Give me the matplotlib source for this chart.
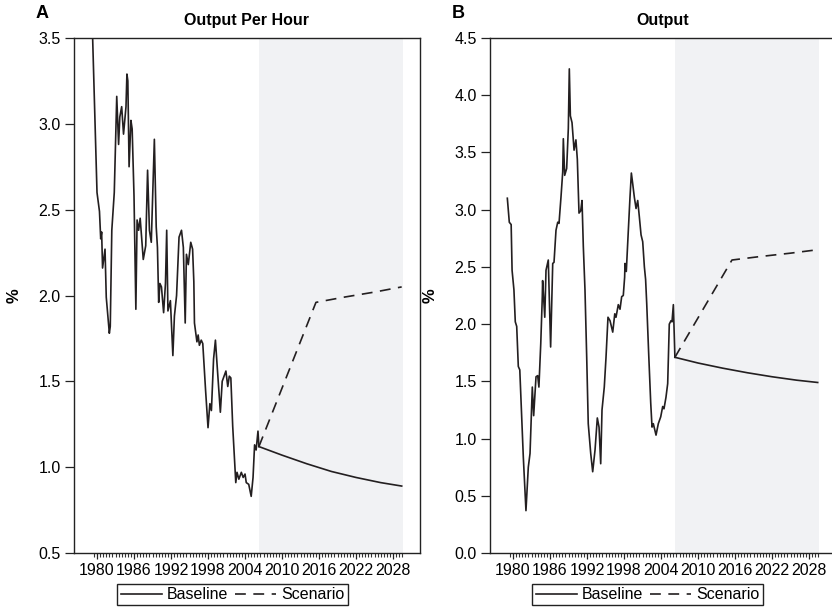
import matplotlib
matplotlib.use("Agg")
import matplotlib.pyplot as plt
from matplotlib.ticker import FixedLocator, MultipleLocator
import numpy as np

plt.rcParams['font.family'] = ['Liberation Sans', 'DejaVu Sans']

# ---------------- data ----------------
tick_years = [1980, 1986, 1992, 1998, 2004, 2010, 2016, 2022, 2028]
tick_labels = [str(y) for y in tick_years]

# Panel A: Output per hour, history
hist_years_A = [1979.3, 1980.0, 1980.4, 1980.6, 1980.75, 1980.9, 1981.3, 1981.5, 1982.0, 1982.15,
                1982.4, 1982.8, 1983.2, 1983.5, 1983.7, 1984.0, 1984.3, 1984.7, 1984.85, 1985.0,
                1985.2, 1985.5, 1985.7, 1986.0, 1986.3, 1986.5, 1986.75, 1987.0, 1987.5, 1987.9,
                1988.2, 1988.5, 1988.8, 1989.3, 1989.6, 1989.8, 1990.0, 1990.2, 1990.45, 1990.8,
                1991.1, 1991.3, 1991.5, 1991.9, 1992.3, 1992.55, 1992.9, 1993.3, 1993.7, 1994.0,
                1994.3, 1994.5, 1994.8, 1995.2, 1995.5, 1995.7, 1995.8, 1996.2, 1996.4, 1996.6,
                1996.9, 1997.15, 1997.6, 1998.0, 1998.3, 1998.55, 1998.9, 1999.2, 1999.5, 2000.0,
                2000.3, 2000.6, 2000.9, 2001.2, 2001.45, 2001.7, 2002.0, 2002.5, 2002.7, 2003.0,
                2003.4, 2003.7, 2004.0, 2004.2, 2004.6, 2005.0, 2005.3, 2005.55, 2005.8, 2006.1,
                2006.25]
hist_vals_A = [3.49, 2.60, 2.49, 2.33, 2.37, 2.16, 2.27, 1.99, 1.78, 1.82,
               2.38, 2.60, 3.16, 2.88, 3.04, 3.10, 2.94, 3.10, 3.29, 3.25,
               2.75, 3.02, 2.97, 2.58, 1.92, 2.44, 2.38, 2.45, 2.21, 2.29,
               2.73, 2.38, 2.31, 2.91, 2.40, 2.28, 1.96, 2.07, 2.05, 1.90,
               2.07, 2.38, 1.91, 1.97, 1.65, 1.88, 2.00, 2.34, 2.38, 2.28,
               1.84, 2.24, 2.18, 2.31, 2.27, 2.08, 1.84, 1.73, 1.77, 1.71,
               1.74, 1.72, 1.45, 1.23, 1.37, 1.33, 1.63, 1.74, 1.58, 1.32,
               1.50, 1.53, 1.56, 1.47, 1.53, 1.52, 1.24, 0.91, 0.97, 0.93,
               0.97, 0.94, 0.96, 0.91, 0.90, 0.83, 0.94, 1.13, 1.10, 1.21,
               1.12]

# Panel B: Output, history
hist_years_B = [1979.08, 1979.4, 1979.7, 1979.85, 1980.15, 1980.37, 1980.6, 1980.86, 1981.1, 1981.67,
                1982.1, 1982.48, 1982.76, 1983.13, 1983.35, 1983.73, 1984.0, 1984.2, 1984.5, 1984.75,
                1984.8, 1985.15, 1985.35, 1985.72, 1986.1, 1986.44, 1986.65, 1986.97, 1987.25, 1987.46,
                1987.78, 1988.06, 1988.16, 1988.38, 1988.7, 1988.97, 1989.13, 1989.3, 1989.57, 1989.9,
                1990.2, 1990.43, 1990.7, 1990.98, 1991.19, 1991.4, 1991.67, 1991.95, 1992.2, 1992.6,
                1992.92, 1993.3, 1993.67, 1993.95, 1994.22, 1994.43, 1994.8, 1995.08, 1995.4, 1995.73,
                1996.17, 1996.5, 1996.7, 1997.07, 1997.35, 1997.62, 1997.88, 1998.1, 1998.16, 1998.37,
                1998.7, 1998.97, 1999.19, 1999.4, 1999.67, 1999.95, 2000.22, 2000.48, 2000.76, 2001.03,
                2001.3, 2001.5, 2001.68, 2002.0, 2002.33, 2002.54, 2002.75, 2003.19, 2003.56, 2003.95,
                2004.27, 2004.48, 2004.8, 2005.08, 2005.34, 2005.62, 2005.78, 2006.0, 2006.25]
hist_vals_B = [3.10, 2.89, 2.87, 2.47, 2.30, 2.02, 1.98, 1.63, 1.60, 0.84,
               0.37, 0.75, 0.87, 1.45, 1.20, 1.54, 1.55, 1.45, 1.83, 2.24,
               2.38, 2.06, 2.47, 2.56, 1.80, 2.53, 2.54, 2.82, 2.89, 2.88,
               3.11, 3.33, 3.62, 3.30, 3.36, 3.71, 4.23, 3.82, 3.76, 3.52,
               3.61, 3.44, 2.97, 2.99, 3.08, 2.68, 2.30, 1.71, 1.13, 0.87,
               0.71, 0.90, 1.18, 1.10, 0.78, 1.25, 1.45, 1.71, 2.06, 2.03,
               1.93, 2.09, 2.06, 2.17, 2.13, 2.24, 2.25, 2.41, 2.53, 2.46,
               2.82, 3.11, 3.32, 3.23, 3.11, 3.01, 3.08, 2.94, 2.78, 2.72,
               2.50, 2.39, 2.18, 1.74, 1.31, 1.10, 1.13, 1.03, 1.13, 1.19,
               1.28, 1.26, 1.36, 1.48, 2.00, 2.03, 2.02, 2.17, 1.71]

# Projections
proj_years = [2006.25, 2010, 2014, 2018, 2022, 2026, 2029.4]
base_proj_A = [1.12, 1.07, 1.02, 0.975, 0.94, 0.91, 0.89]
base_proj_B = [1.71, 1.66, 1.615, 1.575, 1.54, 1.51, 1.49]

scen_years = [2006.25, 2015.5, 2020, 2025, 2029.4]
scen_A = [1.12, 1.96, 1.99, 2.02, 2.05]
scen_B = [1.71, 2.56, 2.59, 2.62, 2.65]

shade_start, shade_end = 2006.25, 2029.6

# ---------------- drawing ----------------
W, H = 832, 611
fig = plt.figure(figsize=(W / 100, H / 100), dpi=100)
fig.patch.set_facecolor('white')

line_col = '#231f20'
shade_col = '#f1f2f4'
fs = 11.5

panels = [
    dict(left=74, letter='A', title='Output Per Hour', hy=hist_years_A, hv=hist_vals_A,
         bp=base_proj_A, sc=scen_A, ylim=(0.5, 3.5), leg_x=232.5),
    dict(left=490, letter='B', title='Output', hy=hist_years_B, hv=hist_vals_B,
         bp=base_proj_B, sc=scen_B, ylim=(0.0, 4.5), leg_x=647.5),
]

for p in panels:
    ax = fig.add_axes([p['left'] / W, 58 / H, 346 / W, 515 / H])
    ax.axvspan(shade_start, shade_end, color=shade_col, lw=0, zorder=0)
    ax.plot(p['hy'], p['hv'], color=line_col, lw=1.2, zorder=3)
    l1, = ax.plot(proj_years, p['bp'], color=line_col, lw=1.2, zorder=3, label='Baseline')
    l2, = ax.plot(scen_years, p['sc'], color=line_col, lw=1.2, zorder=3,
                  dashes=(6.5, 4.5), label='Scenario')
    ax.set_xlim(1976.27, 2032.37)
    ax.set_ylim(*p['ylim'])
    ax.yaxis.set_major_locator(MultipleLocator(0.5))
    ax.yaxis.set_major_formatter(matplotlib.ticker.FormatStrFormatter('%.1f'))
    ax.set_xticks(tick_years)
    ax.set_xticklabels(tick_labels)
    ax.xaxis.set_minor_locator(FixedLocator(np.arange(1979.5, 2029.6, 0.5)))
    ax.tick_params(axis='x', which='major', length=4.5, width=0.9, pad=2.5, labelsize=fs,
                   color='#222222')
    ax.tick_params(axis='x', which='minor', length=3.2, width=0.8, color='#333333')
    ax.tick_params(axis='y', which='major', length=6.5, width=0.9, pad=3, labelsize=fs,
                   color='#222222')
    for s in ax.spines.values():
        s.set_linewidth(1.0)
        s.set_color('#222222')
    ax.set_title(p['title'], fontsize=11.5, fontweight='bold', pad=9)
    ax.set_ylabel('%', fontsize=12, fontweight='bold', labelpad=12)
    fig.text((p['left'] - 38) / W, 1 - 13 / H, p['letter'], fontsize=13,
             fontweight='bold', ha='left', va='center')
    leg = ax.legend(handles=[l1, l2], loc='upper center', ncol=2,
                    bbox_to_anchor=(p['leg_x'] / W, 1 - 584 / H),
                    bbox_transform=fig.transFigure, fontsize=fs, frameon=True,
                    fancybox=False, framealpha=1, edgecolor='#222222',
                    handlelength=2.6, handletextpad=0.3, columnspacing=0.4,
                    borderpad=0.2, borderaxespad=0)
    leg.get_frame().set_linewidth(1.0)

fig.savefig('out.png', dpi=100)
